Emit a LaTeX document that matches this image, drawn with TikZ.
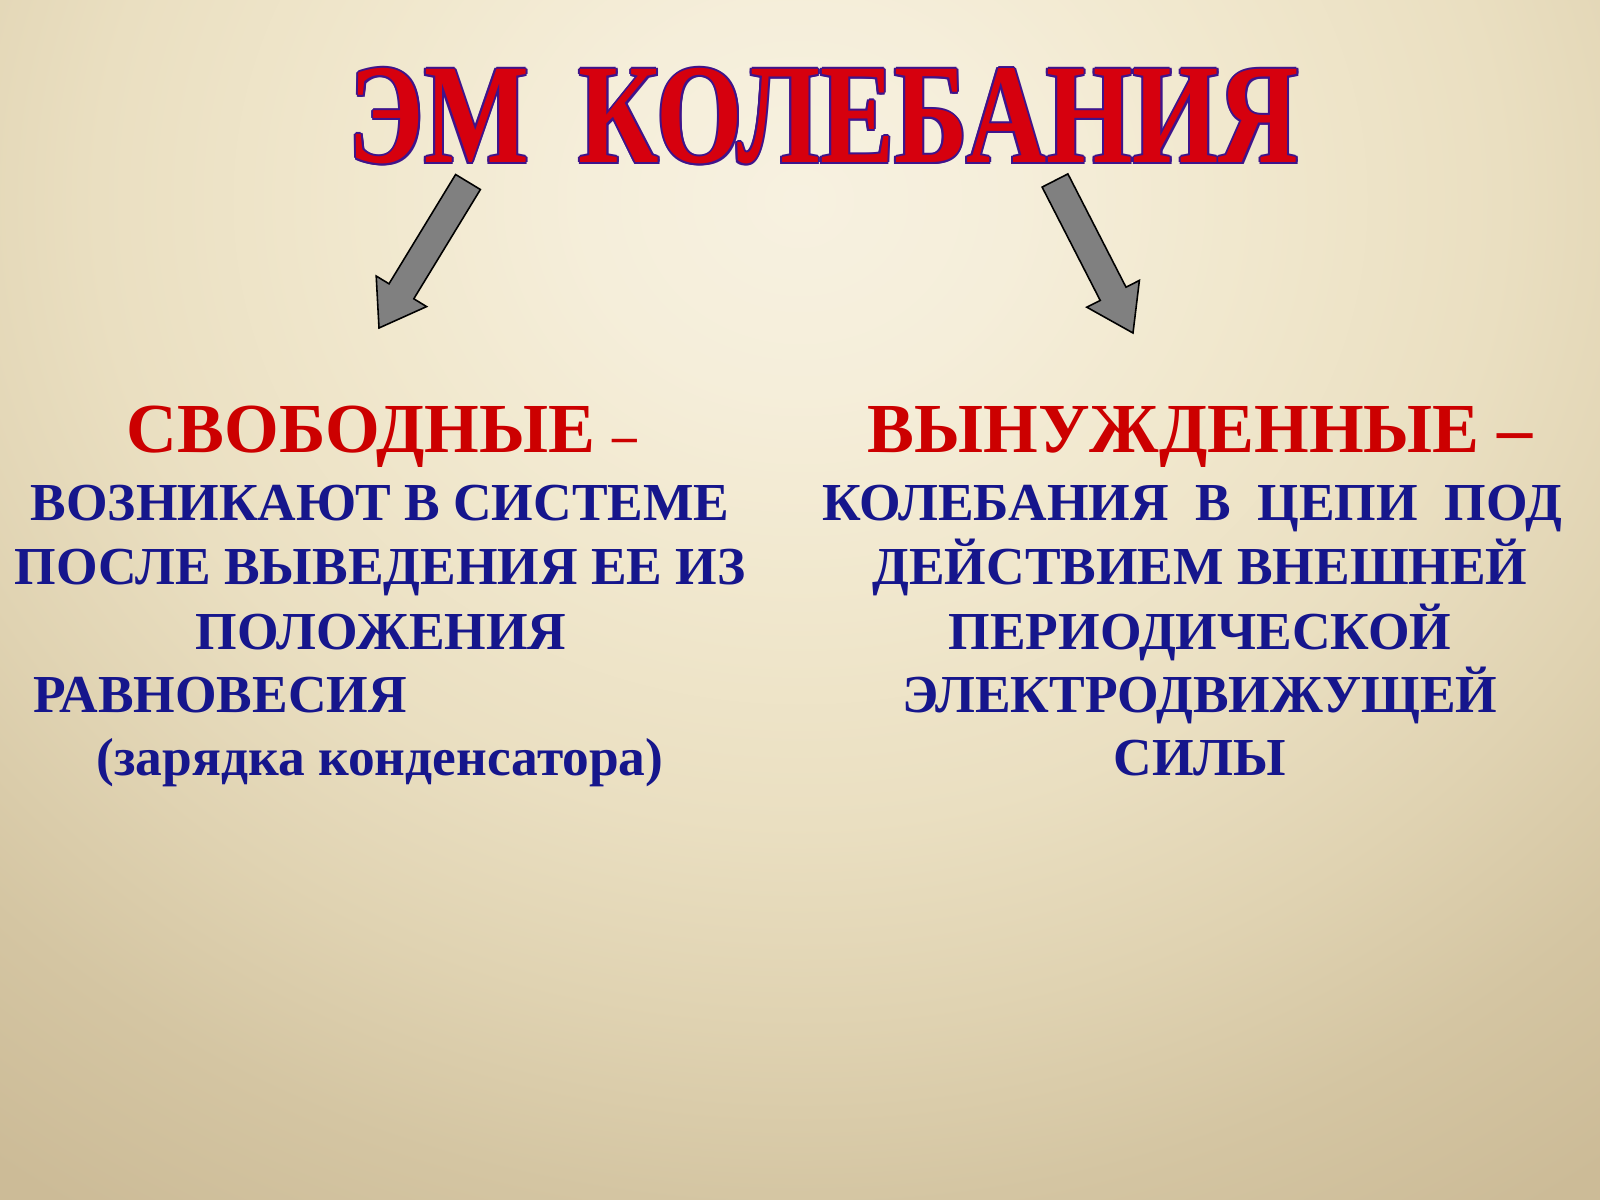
\documentclass[tikz,border=0pt]{standalone}
\usepackage{fontspec}
\setmainfont{Liberation Serif}
\newfontfamily\titlefont[FakeStretch=0.78]{Liberation Serif}
\usetikzlibrary{positioning}

\definecolor{titlered}{RGB}{214,0,14}
\definecolor{titleedge}{RGB}{62,20,140}
\definecolor{headred}{RGB}{204,0,0}
\definecolor{bodyblue}{RGB}{22,22,140}
\definecolor{arrowgray}{RGB}{128,128,128}
\definecolor{bga}{HTML}{F7F1E0}
\definecolor{bgb}{HTML}{F5EEDA}
\definecolor{bgc}{HTML}{F1E8CE}
\definecolor{bgd}{HTML}{EADFC1}
\definecolor{bge}{HTML}{E0D3B2}
\definecolor{bgf}{HTML}{D4C5A2}
\definecolor{bgg}{HTML}{CCBB97}
\definecolor{bgh}{HTML}{C8B692}

\pgfdeclareradialshading{slidebg}{\pgfpoint{0bp}{0bp}}{color(0bp)=(bga); color(4bp)=(bgb); color(8bp)=(bgc); color(13bp)=(bgd); color(17bp)=(bge); color(21bp)=(bgf); color(25bp)=(bgg); color(50bp)=(bgh)}

\tikzset{
  titletext/.style={font=\titlefont\fontsize{40.5}{48}\selectfont\bfseries, anchor=base, inner sep=0pt},
  headtext/.style={font=\fontsize{20}{24}\selectfont\bfseries, text=headred, anchor=base, inner sep=0pt},
  bodytext/.style={font=\fontsize{15.2}{18}\selectfont\bfseries, text=bodyblue, anchor=base, inner sep=0pt},
  blockarrow/.style={draw=black, line width=0.45pt, fill=arrowgray, line join=miter}
}

\begin{document}
\begin{tikzpicture}[x=0.1mm, y=-0.1mm]

% background
\useasboundingbox (0,0) rectangle (1600,1200);
\begin{scope}
\clip (0,0) rectangle (1600,1200);
\shade[shading=slidebg] (-550,-1000) rectangle (2150,1400);
\end{scope}

% title with outline
\foreach \dx/\dy in {-2/0, 2/0, 0/-2, 0/2, -1.5/-1.5, 1.5/-1.5, -1.5/1.5, 1.5/1.5}
  \node[titletext, text=titleedge] at (824+\dx,163+\dy) {ЭМ\hspace{0.35em}КОЛЕБАНИЯ};
\node[titletext, text=titlered] (title) at (824,163) {ЭМ\hspace{0.35em}КОЛЕБАНИЯ};

% arrows
\draw[blockarrow] (455.6,174.5) -- (480.4,189.5) -- (413.8,298.8) -- (426.6,306.6)
  -- (379,328) -- (376.2,276.0) -- (389.0,283.8) -- cycle;
\draw[blockarrow] (1067.9,173.9) -- (1042.1,187.1) -- (1100.2,300.4) -- (1086.8,307.2)
  -- (1133,333) -- (1139.4,280.4) -- (1126.0,287.2) -- cycle;

% left column
\node[headtext] (free) at (382,452) {СВОБОДНЫЕ {\fontsize{14}{16}\selectfont –}};
\node[bodytext] (free1) at (380,520) {ВОЗНИКАЮТ В СИСТЕМЕ};
\node[bodytext] (free2) at (380,584) {ПОСЛЕ ВЫВЕДЕНИЯ ЕЕ ИЗ};
\node[bodytext] (free3) at (381,649) {ПОЛОЖЕНИЯ};
\node[bodytext, anchor=base west] (free4) at (33,712) {РАВНОВЕСИЯ};
\node[bodytext] (free5) at (380,775) {(зарядка конденсатора)};

% right column
\node[headtext] (forced) at (1200,452) {ВЫНУЖДЕННЫЕ –};
\node[bodytext] (forced1) at (1192,520) {КОЛЕБАНИЯ\hspace{0.5em}В\hspace{0.5em}ЦЕПИ\hspace{0.5em}ПОД};
\node[bodytext] (forced2) at (1200,584) {ДЕЙСТВИЕМ ВНЕШНЕЙ};
\node[bodytext] (forced3) at (1200,649) {ПЕРИОДИЧЕСКОЙ};
\node[bodytext] (forced4) at (1200,712) {ЭЛЕКТРОДВИЖУЩЕЙ};
\node[bodytext] (forced5) at (1200,775) {СИЛЫ};

\end{tikzpicture}
\end{document}
